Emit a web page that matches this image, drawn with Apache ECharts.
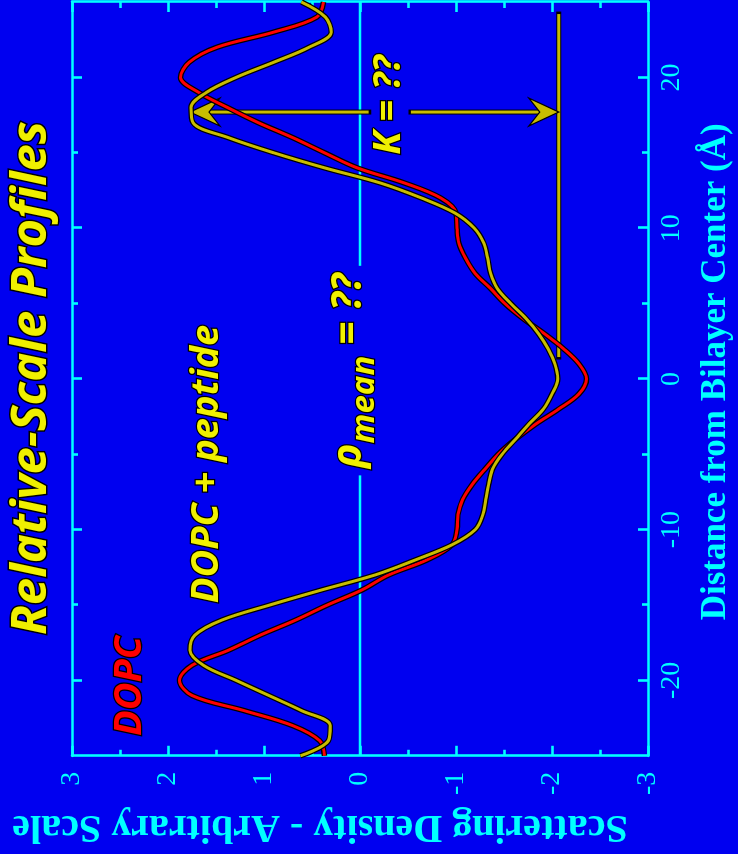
<!DOCTYPE html>
<html>
<head>
<meta charset="utf-8">
<script src="https://cdn.jsdelivr.net/npm/echarts@6/dist/echarts.min.js"></script>
<style>
  html, body { margin: 0; padding: 0; width: 738px; height: 854px; overflow: hidden; background: #0000f0; }
  /* the profile is laid out landscape and turned a quarter-turn counter-clockwise */
  #chart { position: absolute; left: 0; top: 0; width: 854px; height: 738px;
           transform-origin: 0 0; transform: translateY(854px) rotate(-90deg); }
</style>
</head>
<body>
<div id="chart"></div>
<script>
// Distance from the bilayer centre (Å)
const distance = [-25, -24, -23, -22, -21, -20, -19, -18, -17, -16, -15, -14, -13, -12, -11, -10,
  -9, -8, -7, -6, -5, -4, -3, -2, -1, 0, 1, 2, 3, 4, 5, 6, 7, 8, 9, 10,
  11, 12, 13, 14, 15, 16, 17, 18, 19, 20, 21, 22, 23, 24, 25];

// Relative-scale scattering density, pure DOPC
const dopc = [0.37, 0.42, 0.70, 1.21, 1.75, 1.88, 1.75, 1.37, 1.04, 0.67, 0.34, -0.02, -0.30, -0.70, -0.96, -1.01,
  -1.02, -1.07, -1.17, -1.30, -1.44, -1.62, -1.83, -2.07, -2.28, -2.36, -2.28, -2.12, -1.92, -1.70, -1.51, -1.36, -1.20, -1.10, -1.03, -1.01,
  -1.00, -0.84, -0.46, 0.03, 0.37, 0.70, 1.06, 1.38, 1.68, 1.87, 1.78, 1.49, 0.90, 0.45, 0.38];

// Relative-scale scattering density, DOPC + peptide
const dopcPeptide = [0.62, 0.33, 0.31, 0.61, 0.95, 1.29, 1.63, 1.77, 1.72, 1.44, 0.94, 0.40, -0.16, -0.58, -0.96, -1.20,
  -1.28, -1.31, -1.34, -1.38, -1.48, -1.62, -1.76, -1.91, -2.00, -2.06, -2.03, -1.96, -1.86, -1.73, -1.57, -1.43, -1.36, -1.33, -1.29, -1.19,
  -0.99, -0.64, -0.21, 0.37, 0.90, 1.37, 1.74, 1.76, 1.60, 1.29, 0.90, 0.53, 0.30, 0.36, 0.61];

// Axis ticks
const distanceTicks = [-20, -10, 0, 10, 20];
const distanceMinorTicks = [-15, -5, 5, 15];
const distanceRange = [-25, 25];
const densityRange = [-3, 3];

// Mean density line and the stretch left open for its label
const rhoMean = 0;
const rhoMeanGap = [-6.4, 7.5];

// K: peak of the peptide profile down to its central trough level
const kDistance = 17.7;
const kTop = 1.77;
const kBottom = -2.07;
const kLevelSpan = [1.45, 24.2];
const kLabelGap = [-0.09, -0.53];

const CYAN = '#00ffff';
const RED = '#ff0000';
const OLIVE = '#c8bc00';
const YELLOW = '#f0f000';
const LABEL_FONT = "'Open Sans', 'DejaVu Sans', sans-serif";
const AXIS_FONT = "'Liberation Serif', 'DejaVu Serif', serif";

const measureCtx = document.createElement('canvas').getContext('2d');
function textWidth(str, font) { measureCtx.font = font; return measureCtx.measureText(str).width; }

function pairs(xs, ys) { return xs.map((x, i) => [x, ys[i]]); }

function seg(a, b, color, width, cap) {
  return { type: 'line', silent: true,
    shape: { x1: a[0], y1: a[1], x2: b[0], y2: b[1] },
    style: { stroke: color, lineWidth: width, lineCap: cap || 'butt' } };
}

function outlinedSeg(a, b) {
  return [seg(a, b, '#000', 5, 'square'), seg(a, b, OLIVE, 3)];
}

// barbed arrow head, tip at p, pointing along unit vector dir
function arrowHead(p, dir) {
  const len = 30, half = 14, notch = 19;
  const nx = -dir[1], ny = dir[0];
  const back = [p[0] - dir[0] * len, p[1] - dir[1] * len];
  const pts = [
    p,
    [back[0] + nx * half, back[1] + ny * half],
    [p[0] - dir[0] * notch, p[1] - dir[1] * notch],
    [back[0] - nx * half, back[1] - ny * half]
  ];
  return { type: 'polygon', silent: true, shape: { points: pts },
    style: { fill: OLIVE, stroke: '#000', lineWidth: 1.2, lineJoin: 'miter' } };
}

function label(text, x, y, font, fill, align) {
  return { type: 'text', silent: true, x: x, y: y,
    style: { text: text, font: font, fill: fill, stroke: '#000', lineWidth: 2.6, strokeFirst: true,
      align: align || 'center', verticalAlign: 'middle' } };
}

function renderAnnotations(params, api) {
  const children = [];

  // mean density line, open around its label
  const m0 = api.coord([distanceRange[0], rhoMean]);
  const m1 = api.coord([rhoMeanGap[0], rhoMean]);
  const m2 = api.coord([rhoMeanGap[1], rhoMean]);
  const m3 = api.coord([distanceRange[1], rhoMean]);
  children.push(seg(m0, m1, CYAN, 2.6), seg(m2, m3, CYAN, 2.6));

  const mainFont = 'italic bold 41px ' + LABEL_FONT;
  const subFont = 'italic bold 33px ' + LABEL_FONT;
  const parts = [['\u03c1', mainFont, -11], ['mean', subFont, 5], [' = ??', mainFont, -11]];
  const widths = parts.map(p => textWidth(p[0], p[1]));
  const total = widths.reduce((s, w) => s + w, 0);
  const mid = api.coord([(rhoMeanGap[0] + rhoMeanGap[1]) / 2, rhoMean]);
  let x = mid[0] - total / 2;
  parts.forEach((p, i) => {
    children.push(label(p[0], x, mid[1] + p[2], p[1], YELLOW, 'left'));
    x += widths[i];
  });

  // trough level line
  children.push(...outlinedSeg(api.coord([kLevelSpan[0], kBottom]), api.coord([kLevelSpan[1], kBottom])));

  // double arrow for K, broken around its label
  const top = api.coord([kDistance, kTop]);
  const bot = api.coord([kDistance, kBottom]);
  const g0 = api.coord([kDistance, kLabelGap[0]]);
  const g1 = api.coord([kDistance, kLabelGap[1]]);
  children.push(...outlinedSeg([top[0], top[1] + 19], g0));
  children.push(...outlinedSeg(g1, [bot[0], bot[1] - 19]));
  children.push(arrowHead(top, [0, -1]), arrowHead(bot, [0, 1]));
  const kMid = api.coord([kDistance, (kLabelGap[0] + kLabelGap[1]) / 2]);
  children.push(label('K = ??', kMid[0] + 7, kMid[1] - 1, 'italic bold 38px ' + LABEL_FONT, YELLOW));

  return { type: 'group', children: children };
}

function axisBase(extra) {
  return Object.assign({
    type: 'value',
    axisLine: { show: true, onZero: false, lineStyle: { color: CYAN, width: 2.6 } },
    axisTick: { show: true, inside: true, length: 10, lineStyle: { color: CYAN, width: 2.6 } },
    axisLabel: { show: false },
    splitLine: { show: false }
  }, extra);
}

const chart = echarts.init(document.getElementById('chart'), null, { renderer: 'canvas' });

const xMajor = {
  min: distanceRange[0], max: distanceRange[1],
  axisTick: { show: true, inside: true, length: 10, customValues: distanceTicks, lineStyle: { color: CYAN, width: 2.6 } }
};
const xMinor = {
  min: distanceRange[0], max: distanceRange[1],
  axisLine: { show: false, onZero: false },
  axisTick: { show: true, inside: true, length: 6, customValues: distanceMinorTicks, lineStyle: { color: CYAN, width: 2.6 } }
};
const yCommon = {
  min: densityRange[0], max: densityRange[1], interval: 1,
  minorTick: { show: true, splitNumber: 2, length: 6, lineStyle: { color: CYAN, width: 2.6 } },
  minorSplitLine: { show: false }
};

chart.setOption({
  animation: false,
  backgroundColor: '#0000f0',
  grid: { left: 95, right: 2, top: 72, bottom: 88, containLabel: false },
  xAxis: [
    axisBase(Object.assign({}, xMajor, {
      position: 'bottom',
      axisLabel: { show: true, customValues: distanceTicks, color: CYAN, fontFamily: AXIS_FONT, fontSize: 28, margin: 10 },
      name: 'Distance from Bilayer Center (\u00c5)', nameLocation: 'middle', nameGap: 50,
      nameTextStyle: { color: CYAN, fontFamily: AXIS_FONT, fontWeight: 'bold', fontSize: 35, padding: [0, 0, 0, 14] }
    })),
    axisBase(Object.assign({}, xMinor, { position: 'bottom' })),
    axisBase(Object.assign({}, xMajor, { position: 'top' })),
    axisBase(Object.assign({}, xMinor, { position: 'top' }))
  ],
  yAxis: [
    axisBase(Object.assign({}, yCommon, {
      position: 'left',
      axisLabel: { show: true, color: CYAN, fontFamily: AXIS_FONT, fontSize: 28, margin: 16 },
      name: 'Scattering Density - Arbitrary Scale', nameLocation: 'middle', nameGap: 47,
      nameTextStyle: { color: CYAN, fontFamily: AXIS_FONT, fontWeight: 'bold', fontSize: 40, padding: [0, 0, 0, 80] }
    })),
    axisBase(Object.assign({}, yCommon, { position: 'right' }))
  ],
  graphic: [
    { type: 'text', x: 476, y: 32, silent: true,
      style: { text: 'Relative-Scale Profiles', font: 'italic bold 49px ' + LABEL_FONT, fill: YELLOW,
        stroke: '#000', lineWidth: 3, strokeFirst: true, align: 'center', verticalAlign: 'middle' } },
    { type: 'text', x: 168, y: 130, silent: true,
      style: { text: 'DOPC', font: 'italic bold 38px ' + LABEL_FONT, fill: RED,
        stroke: '#000', lineWidth: 2.6, strokeFirst: true, align: 'center', verticalAlign: 'middle' } },
    { type: 'text', x: 390, y: 207, silent: true,
      style: { text: 'DOPC + peptide', font: 'italic bold 38px ' + LABEL_FONT, fill: YELLOW,
        stroke: '#000', lineWidth: 2.6, strokeFirst: true, align: 'center', verticalAlign: 'middle' } }
  ],
  series: [
    { name: 'DOPC outline', type: 'line', data: pairs(distance, dopc), smooth: 0.35, showSymbol: false,
      silent: true, lineStyle: { color: '#000', width: 5.5 } },
    { name: 'DOPC', type: 'line', data: pairs(distance, dopc), smooth: 0.35, showSymbol: false,
      silent: true, lineStyle: { color: RED, width: 3 } },
    { name: 'DOPC + peptide outline', type: 'line', data: pairs(distance, dopcPeptide), smooth: 0.35, showSymbol: false,
      silent: true, lineStyle: { color: '#000', width: 5.5 } },
    { name: 'DOPC + peptide', type: 'line', data: pairs(distance, dopcPeptide), smooth: 0.35, showSymbol: false,
      silent: true, lineStyle: { color: OLIVE, width: 3 } },
    { name: 'annotations', type: 'custom', data: [[0, 0]], renderItem: renderAnnotations, silent: true, clip: false }
  ]
});
</script>
</body>
</html>
